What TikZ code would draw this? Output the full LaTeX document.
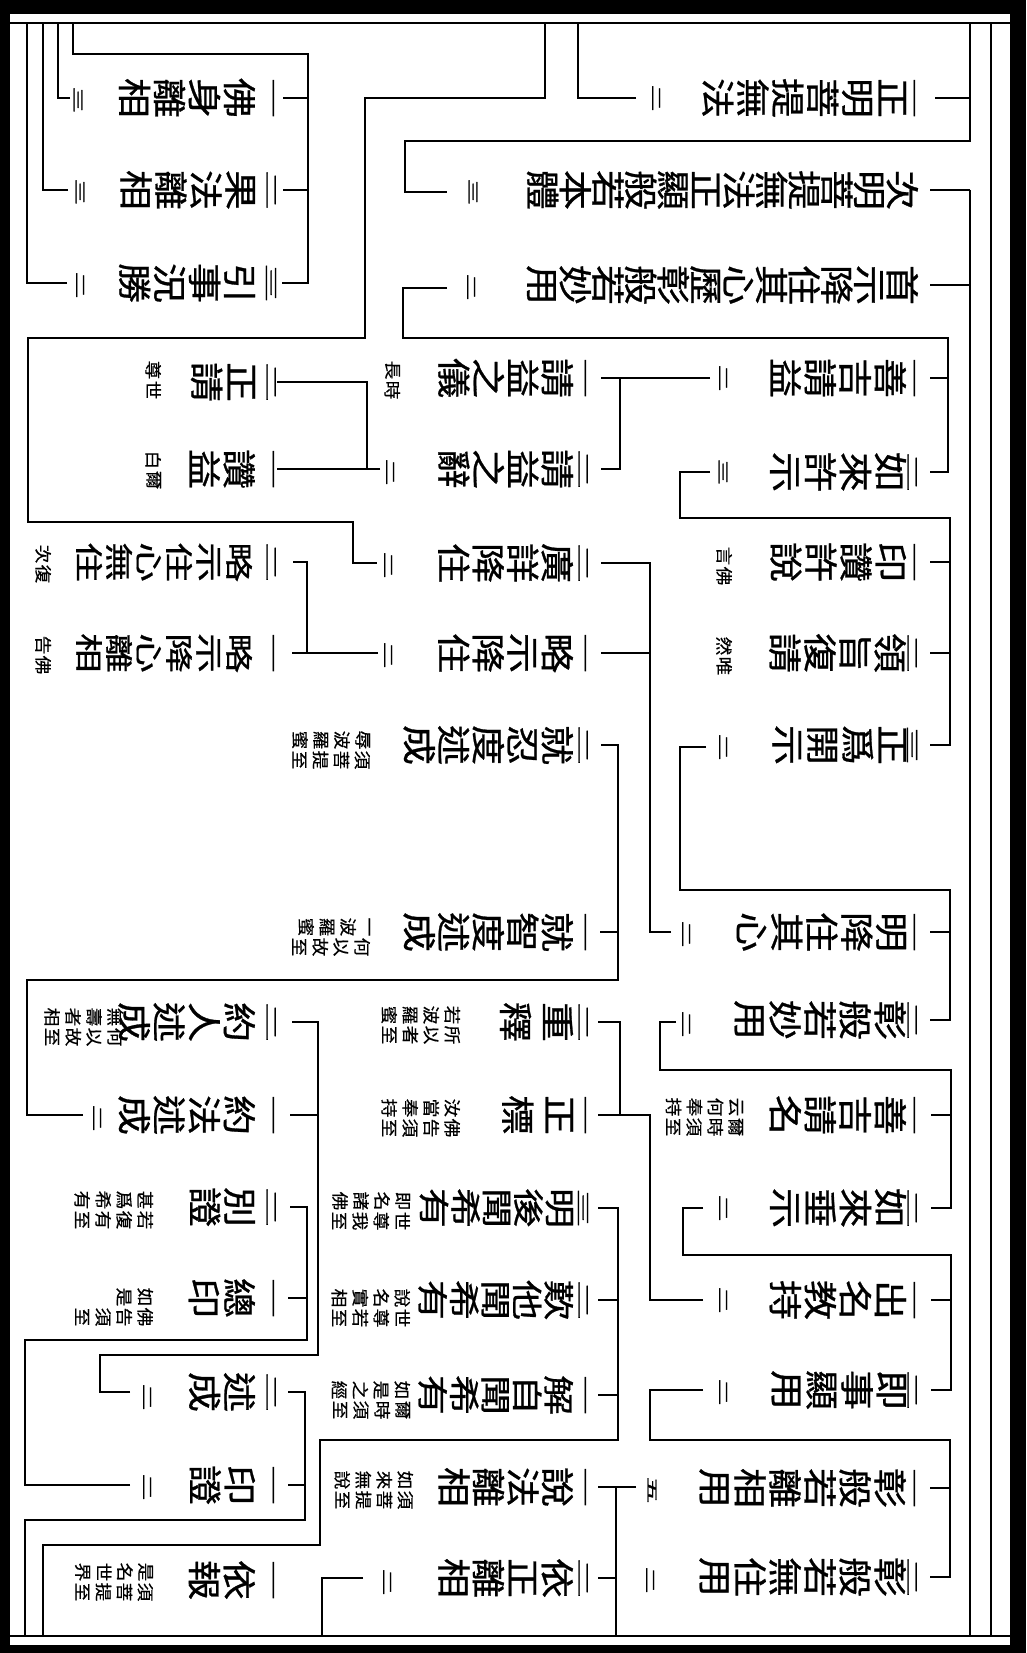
\documentclass[tikz,border=0pt]{standalone}
\usepackage{fontspec}
\usepackage{graphicx}
\newfontfamily\cjkA[FakeStretch=1.18,FakeBold=0.8]{Noto Sans CJK TC}
\newfontfamily\cjkB[FakeStretch=1.3,FakeBold=0.8]{Noto Sans CJK TC}
\newfontfamily\cjkC[FakeStretch=1.42,FakeBold=0.8]{Noto Sans CJK TC}
\newfontfamily\cjkN[FakeStretch=1.15,FakeBold=2]{Noto Sans CJK TC}
\newfontfamily\cjkS[FakeStretch=1.1,FakeBold=0.4]{Noto Sans CJK TC}
\newcommand\od[1]{\scalebox{1}[0.4]{#1}}
\newcommand\ct[1]{\scalebox{1}[0.5]{#1}}
\lineskiplimit=-99pt
\lineskip=0pt
\tikzset{
  txt/.style={rotate=-90, anchor=north, inner sep=0pt, outer sep=0pt, align=center,
    font=\cjkA\fontsize{34}{#1}\selectfont},
  txt/.default=35,
  txtb/.style={rotate=-90, anchor=north, inner sep=0pt, outer sep=0pt, align=center,
    font=\cjkB\fontsize{31}{#1}\selectfont},
  txtb/.default=31.5,
  txtd/.style={rotate=-90, anchor=north, inner sep=0pt, outer sep=0pt, align=center,
    font=\cjkC\fontsize{28}{#1}\selectfont},
  txtd/.default=30,
  ordn/.style={rotate=-90, inner sep=0pt, font=\cjkN\fontsize{34}{34}\selectfont},
  cnt/.style={rotate=-90, inner sep=0pt, font=\cjkN\fontsize{23}{23}\selectfont},
  note/.style={rotate=-90, anchor=north, inner sep=0pt, outer sep=0pt, align=center,
    font=\cjkS\fontsize{17}{21}\selectfont},
  ln/.style={line width=1.2pt}
}
\newcommand\nt[5]{%
  \node[note] (#1u) at (#2,#3-10) {#4};
  \node[note] (#1l) at (#2,#3+10) {#5};}
\begin{document}
\begin{tikzpicture}[x=1pt,y=-1pt]
\useasboundingbox (0,0) rectangle (1026,1653);
% frame
\fill[black] (0,0) rectangle (1026,1653);
\fill[white] (10,14) rectangle (1010,1645);
\draw[ln] (10,23) -- (1010,23);
\draw[ln] (10,1636) -- (1010,1636);
\draw[ln] (991,23) -- (991,1636);

% ---------------- right band ----------------
\node[txt] (rA1) at (906,98) {正\\明\\菩\\提\\無\\法};
\node[ordn] (oA1) at (912,98) {\od{一}};
\node[cnt] (cA1) at (656,98) {\ct{二}};
\node[txt=32.7] (rA2) at (918,190) {次\\明\\菩\\提\\無\\法\\正\\顯\\般\\若\\本\\體};
\node[cnt] (cA2) at (473,192) {\ct{三}};
\node[txt=32.7] (rA3) at (918,285) {首\\示\\降\\住\\其\\心\\歷\\彰\\般\\若\\妙\\用};
\node[cnt] (cA3) at (471,287) {\ct{二}};

\node[txt] (r1) at (906,378) {善\\吉\\請\\益};
\node[ordn] (o1) at (912,378) {\od{一}};
\node[cnt] (c1) at (723,378) {\ct{二}};
\node[txt] (r2) at (906,472) {如\\來\\許\\示};
\node[ordn] (o2) at (912,472) {\od{二}};
\node[cnt] (c2) at (723,472) {\ct{三}};
\node[txt] (r3) at (906,562) {印\\讚\\許\\說};
\node[ordn] (o3) at (912,562) {\od{一}};
\nt{n3}{732}{566}{言}{佛}
\node[txt] (r4) at (906,653) {領\\旨\\復\\請};
\node[ordn] (o4) at (912,653) {\od{二}};
\nt{n4}{732}{656}{然}{唯}
\node[txt] (r5) at (906,745) {正\\爲\\開\\示};
\node[ordn] (o5) at (912,745) {\od{三}};
\node[cnt] (c5) at (723,747) {\ct{二}};
\node[txt] (r6) at (906,932) {明\\降\\住\\其\\心};
\node[ordn] (o6) at (912,932) {\od{一}};
\node[cnt] (c6) at (686,934) {\ct{二}};
\node[txt] (r7) at (906,1020) {彰\\般\\若\\妙\\用};
\node[ordn] (o7) at (912,1020) {\od{二}};
\node[cnt] (c7) at (686,1024) {\ct{二}};
\node[txt] (r8) at (906,1115) {善\\吉\\請\\名};
\node[ordn] (o8) at (912,1115) {\od{一}};
\nt{n8}{743}{1117}{云\\何\\奉\\持}{爾\\時\\須\\至}
\node[txt] (r9) at (906,1208) {如\\來\\垂\\示};
\node[ordn] (o9) at (912,1208) {\od{二}};
\node[cnt] (c9) at (723,1208) {\ct{二}};
\node[txt] (r10) at (906,1300) {出\\名\\教\\持};
\node[ordn] (o10) at (912,1300) {\od{一}};
\node[cnt] (c10) at (723,1300) {\ct{二}};
\node[txt] (r11) at (906,1390) {即\\事\\顯\\用};
\node[ordn] (o11) at (912,1390) {\od{二}};
\node[cnt] (c11) at (723,1392) {\ct{二}};
\node[txt] (r12) at (906,1488) {彰\\般\\若\\離\\相\\用};
\node[ordn] (o12) at (912,1488) {\od{一}};
\node[cnt] (c12) at (652,1490) {\ct{五}};
\node[txt] (r13) at (906,1577) {彰\\般\\若\\無\\住\\用};
\node[ordn] (o13) at (912,1577) {\od{二}};
\node[cnt] (c13) at (650,1580) {\ct{二}};

% ---------------- middle band ----------------
\node[txt=34.5] (m1) at (573,378) {請\\益\\之\\儀};
\node[ordn] (p1) at (583,378) {\od{一}};
\nt{k1}{400}{380}{長}{時}
\node[txt=34.5] (m2) at (573,469) {請\\益\\之\\辭};
\node[ordn] (p2) at (583,469) {\od{二}};
\node[cnt] (d2) at (390,472) {\ct{二}};
\node[txt=34.5] (m3) at (573,563) {廣\\詳\\降\\住};
\node[ordn] (p3) at (583,563) {\od{二}};
\node[cnt] (d3) at (388,565) {\ct{二}};
\node[txt=34.5] (m4) at (573,653) {略\\示\\降\\住};
\node[ordn] (p4) at (583,653) {\od{一}};
\node[cnt] (d4) at (388,655) {\ct{二}};
\node[txt=34.5] (m5) at (573,745) {就\\忍\\度\\述\\成};
\node[ordn] (p5) at (583,745) {\od{二}};
\nt{k5}{370}{750}{辱\\波\\羅\\蜜}{須\\菩\\提\\至}
\node[txt=34.5] (m6) at (573,932) {就\\智\\度\\述\\成};
\node[ordn] (p6) at (583,932) {\od{一}};
\nt{k6}{370}{937}{一\\波\\羅\\蜜}{何\\以\\故\\至}
\node[txt=42] (m7) at (573,1022) {重\\釋};
\node[ordn] (p7) at (583,1022) {\od{二}};
\nt{k7}{460}{1025}{若\\波\\羅\\蜜}{所\\以\\者\\至}
\node[txt=42] (m8) at (573,1115) {正\\標};
\node[ordn] (p8) at (583,1115) {\od{一}};
\nt{k8}{460}{1118}{汝\\當\\奉\\持}{佛\\告\\須\\至}
\node[txtb] (m9) at (573,1208) {明\\後\\聞\\希\\有};
\node[ordn] (p9) at (583,1208) {\od{三}};
\nt{k9}{410}{1211}{即\\名\\諸\\佛}{世\\尊\\我\\至}
\node[txtb] (m10) at (573,1300) {歎\\他\\聞\\希\\有};
\node[ordn] (p10) at (583,1300) {\od{二}};
\nt{k10}{410}{1308}{說\\名\\實\\相}{世\\尊\\若\\至}
\node[txtb] (m11) at (573,1395) {解\\自\\聞\\希\\有};
\node[ordn] (p11) at (583,1395) {\od{一}};
\nt{k11}{410}{1400}{如\\是\\之\\經}{爾\\時\\須\\至}
\node[txt=34.5] (m12) at (573,1487) {說\\法\\離\\相};
\node[ordn] (p12) at (583,1487) {\od{一}};
\nt{k12}{413}{1490}{如\\來\\無\\說}{須\\菩\\提\\至}
\node[txt=34.5] (m13) at (573,1578) {依\\正\\離\\相};
\node[ordn] (p13) at (583,1578) {\od{二}};
\node[cnt] (d13) at (387,1582) {\ct{二}};

% ---------------- left band ----------------
\node[txt] (l1) at (255,98) {佛\\身\\離\\相};
\node[ordn] (q1) at (271,98) {\od{一}};
\node[cnt] (e1) at (78,100) {\ct{三}};
\node[txt] (l2) at (255,190) {果\\法\\離\\相};
\node[ordn] (q2) at (271,190) {\od{二}};
\node[cnt] (e2) at (80,192) {\ct{三}};
\node[txt] (l3) at (255,283) {引\\事\\況\\勝};
\node[ordn] (q3) at (271,283) {\od{三}};
\node[cnt] (e3) at (80,285) {\ct{二}};
\node[txt] (l4) at (255,382) {正\\請};
\node[ordn] (q4) at (271,382) {\od{二}};
\nt{j4}{161}{380}{尊}{世}
\node[txt] (l5) at (255,469) {讚\\益};
\node[ordn] (q5) at (271,469) {\od{一}};
\nt{j5}{161}{470}{白}{爾}
\node[txtd] (l6) at (252,562) {略\\示\\住\\心\\無\\住};
\node[ordn] (q6) at (271,562) {\od{二}};
\nt{j6}{51}{564}{次}{復}
\node[txtd] (l7) at (252,653) {略\\示\\降\\心\\離\\相};
\node[ordn] (q7) at (271,653) {\od{一}};
\nt{j7}{51}{655}{告}{佛}
\node[txt] (l8) at (255,1022) {約\\人\\述\\成};
\node[ordn] (q8) at (271,1022) {\od{二}};
\nt{j8}{123}{1027}{無\\壽\\者\\相}{何\\以\\故\\至}
\node[txt] (l9) at (255,1115) {約\\法\\述\\成};
\node[ordn] (q9) at (271,1115) {\od{一}};
\node[cnt] (e9) at (97,1118) {\ct{二}};
\node[txt] (l10) at (255,1207) {別\\證};
\node[ordn] (q10) at (271,1207) {\od{二}};
\nt{j10}{153}{1210}{甚\\爲\\希\\有}{若\\復\\有\\至}
\node[txt] (l11) at (255,1298) {總\\印};
\node[ordn] (q11) at (271,1298) {\od{一}};
\nt{j11}{153}{1307}{如\\是}{佛\\告\\須\\至}
\node[txt] (l12) at (255,1392) {述\\成};
\node[ordn] (q12) at (271,1392) {\od{二}};
\node[cnt] (e12) at (147,1397) {\ct{二}};
\node[txt] (l13) at (255,1485) {印\\證};
\node[ordn] (q13) at (271,1485) {\od{一}};
\node[cnt] (e13) at (147,1487) {\ct{二}};
\node[txt] (l14) at (255,1580) {依\\報};
\node[ordn] (q14) at (271,1580) {\od{一}};
\nt{j14}{153}{1582}{是\\名\\世\\界}{須\\菩\\提\\至}

% ---------------- connectors ----------------
\draw[ln] (970,23) -- (970,141) -- (405,141) -- (405,192) -- (447,192);
\draw[ln] (935,98) -- (970,98);
\draw[ln] (636,98) -- (578,98) -- (578,23);
\draw[ln] (545,23) -- (545,98) -- (365,98) -- (365,338) -- (28,338) -- (28,522) -- (353,522) -- (353,563) -- (377,563);
\draw[ln] (970,190) -- (970,1636);
\draw[ln] (930,190) -- (970,190);
\draw[ln] (930,285) -- (970,285);
\draw[ln] (447,288) -- (403,288) -- (403,338) -- (948,338) -- (948,472) -- (930,472);
\draw[ln] (930,378) -- (948,378);
\draw[ln] (710,378) -- (601,378);
\draw[ln] (620,378) -- (620,469) -- (601,469);
\draw[ln] (710,472) -- (680,472) -- (680,518) -- (950,518) -- (950,745) -- (930,745);
\draw[ln] (930,562) -- (950,562);
\draw[ln] (930,653) -- (950,653);
\draw[ln] (706,747) -- (680,747) -- (680,890) -- (950,890) -- (950,1020) -- (930,1020);
\draw[ln] (930,932) -- (950,932);
\draw[ln] (671,932) -- (650,932) -- (650,563) -- (601,563);
\draw[ln] (650,653) -- (601,653);
\draw[ln] (676,1022) -- (660,1022) -- (660,1070) -- (951,1070) -- (951,1208) -- (931,1208);
\draw[ln] (931,1115) -- (951,1115);
\draw[ln] (703,1208) -- (683,1208) -- (683,1255) -- (951,1255) -- (951,1390) -- (931,1390);
\draw[ln] (931,1300) -- (951,1300);
\draw[ln] (703,1300) -- (650,1300) -- (650,1115) -- (598,1115);
\draw[ln] (620,1115) -- (620,1022) -- (598,1022);
\draw[ln] (703,1390) -- (650,1390) -- (650,1440) -- (950,1440) -- (950,1577) -- (930,1577);
\draw[ln] (930,1488) -- (950,1488);
\draw[ln] (636,1487) -- (598,1487);
\draw[ln] (616,1487) -- (616,1636);
\draw[ln] (598,1578) -- (616,1578);
\draw[ln] (598,1208) -- (618,1208) -- (618,1440) -- (320,1440) -- (320,1545) -- (43,1545) -- (43,1636);
\draw[ln] (598,1300) -- (618,1300);
\draw[ln] (598,1395) -- (618,1395);
\draw[ln] (363,1578) -- (322,1578) -- (322,1636);
\draw[ln] (83,1115) -- (27,1115) -- (27,980) -- (618,980) -- (618,745) -- (601,745);
\draw[ln] (600,932) -- (618,932);
\draw[ln] (380,469) -- (277,469);
\draw[ln] (367,469) -- (367,382) -- (277,382);
\draw[ln] (378,653) -- (292,653);
\draw[ln] (307,653) -- (307,562) -- (293,562);
\draw[ln] (73,23) -- (73,54) -- (308,54) -- (308,283) -- (282,283);
\draw[ln] (283,98) -- (308,98);
\draw[ln] (283,190) -- (308,190);
\draw[ln] (70,98) -- (58,98) -- (58,23);
\draw[ln] (68,190) -- (43,190) -- (43,23);
\draw[ln] (67,283) -- (27,283) -- (27,23);
\draw[ln] (130,1392) -- (100,1392) -- (100,1355) -- (318,1355) -- (318,1022) -- (292,1022);
\draw[ln] (290,1115) -- (318,1115);
\draw[ln] (130,1485) -- (25,1485) -- (25,1340) -- (307,1340) -- (307,1207) -- (290,1207);
\draw[ln] (288,1298) -- (307,1298);
\draw[ln] (25,1636) -- (25,1520) -- (305,1520) -- (305,1392) -- (288,1392);
\draw[ln] (288,1485) -- (305,1485);
\end{tikzpicture}
\end{document}
